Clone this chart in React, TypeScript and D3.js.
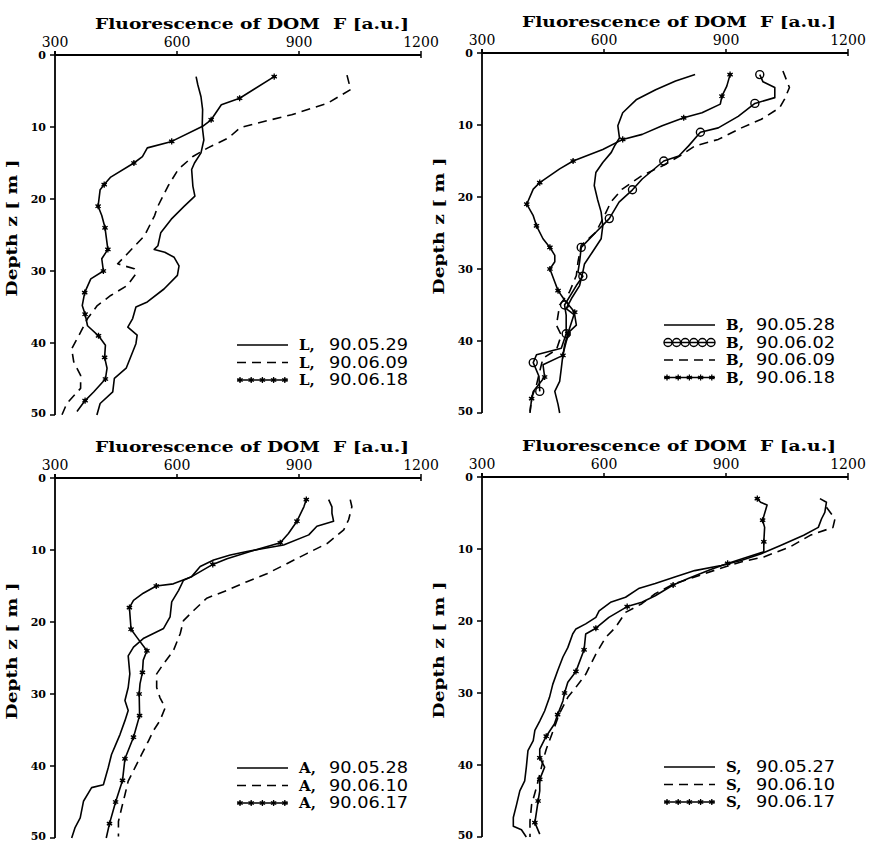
import React from 'react';
import * as d3 from 'd3';

// [F, depth, marker?]
type Pt = number[];

const fTicks = [300, 600, 900, 1200];
const depthTicks = [0, 10, 20, 30, 40, 50];
const xTitle = 'Fluorescence of DOM  F [a.u.]';
const yTitle = 'Depth z [ m ]';

// station L
const L_0529: Pt[] = [[647,3],[651,4.1],[659,5.8],[663,7.6],[662,9.9],[666,11.8],[659,13.6],[643,15],[636,15.9],[639,18.2],[644,19.6],[618,21],[586,22.8],[560,24.7],[553,26.5],[544,27],[570,27.4],[593,28.1],[605,29.3],[601,30.6],[568,32.5],[527,34.3],[499,35],[491,36.6],[479,37.8],[502,38.9],[499,40.1],[475,43.5],[446,44.9],[442,46.8],[411,48.4],[403,50]];
const L_0609: Pt[] = [[1018,2.8],[1027,4.8],[970,6.7],[882,8.3],[816,9.2],[755,10.1],[727,11.5],[676,12.9],[639,14.1],[603,15.9],[578,18.2],[553,21],[545,22.3],[520,25.1],[478,27.6],[454,29],[495,29.7],[499,30.4],[478,32],[437,33.4],[404,34.8],[380,36.6],[363,38.5],[341,40.8],[346,42.6],[363,44.5],[363,46.3],[329,48.4],[317,50]];
const L_0618: Pt[] = [[839,3,1],[754,6,1],[709,6.9],[684,9,1],[663,9.9],[587,12,1],[527,12.9],[515,14.1],[494,15,1],[436,17],[421,18,1],[411,18.7],[406,21,1],[415,22.3],[423,24,1],[430,27,1],[415,28.3],[419,30,1],[388,31.1],[373,33,1],[367,34.8],[374,36,1],[380,37.6],[407,39,1],[424,40.3],[422,42,1],[428,43.5],[424,45,1],[395,46.8],[374,48,1],[354,49.5]];

// station B
const B_0528: Pt[] = [[824,3],[776,3.9],[727,5.1],[679,6.5],[646,8.3],[634,10.1],[638,11.8],[626,12.9],[618,13.8],[597,15.2],[580,16.6],[576,18.4],[584,20.3],[593,22.1],[597,24],[593,25.8],[572,27.6],[552,29.3],[548,30.4],[540,32.3],[520,34.1],[507,35.5],[528,36.4],[532,37.8],[515,38.7],[507,40.1],[499,41.9],[495,43.8],[491,45.6],[479,47],[487,48.8],[491,50]];
const B_0602: Pt[] = [[983,3,1],[991,4],[1020,4.8],[1020,6.2],[971,7,1],[930,8.8],[881,10.4],[837,11,1],[808,12.9],[784,14.3],[747,15,1],[694,17.5],[670,19,1],[637,20.7],[613,23,1],[580,24.9],[544,27,1],[540,29],[536,30.4],[548,31,1],[532,32.3],[503,35,1],[507,36.4],[507,39,1],[495,41],[434,41.9],[426,43,1],[440,44.9],[442,47,1]];
const B_0609: Pt[] = [[1040,2.5],[1056,4.8],[1044,6.4],[1032,7.6],[987,9.2],[938,10.4],[881,12],[824,12.9],[792,14.1],[743,15.7],[694,17],[645,18.9],[617,20.7],[601,22.6],[580,24.9],[544,26.7],[536,29],[532,30.9],[515,33.2],[491,35],[483,37.8],[495,39.2],[483,41.2],[450,42.4],[442,44.2],[434,46.1],[422,47.9],[418,49.8]];
const B_0618: Pt[] = [[910,3,1],[902,4.6],[890,6,1],[886,7.1],[841,8.3],[796,9,1],[743,10.1],[694,11.3],[646,12,1],[597,13.4],[524,15,1],[491,16.1],[442,18,1],[426,18.9],[410,21,1],[426,22.6],[434,24,1],[450,25.8],[467,27,1],[479,28.1],[479,29],[467,30,1],[479,31.8],[487,33,1],[503,34.3],[528,36,1],[511,39,1],[503,40.6],[499,42,1],[450,43.3],[454,45,1],[426,47],[422,48,1],[418,50]];

// station A
const A_0528: Pt[] = [[973,3],[981,4],[981,4.9],[985,6],[944,6.7],[924,7.9],[862,9.3],[813,9.8],[772,10.2],[731,10.7],[690,11.4],[657,12.3],[636,13.7],[616,14.2],[604,15.6],[587,17.2],[583,19.3],[567,20.9],[542,21.6],[517,22.3],[493,23.5],[480,24.7],[484,27.2],[480,29.1],[472,30.9],[480,32.3],[472,33.7],[460,35.6],[448,37.2],[439,38.4],[431,40.2],[419,42.6],[390,43],[370,44.9],[362,47.2],[349,48.6],[341,50]];
const A_0610: Pt[] = [[1026,3],[1030,4],[1022,5.8],[1010,7.2],[969,9.1],[919,10.5],[870,11.9],[821,13.3],[772,14.4],[723,15.6],[673,16.7],[641,18.4],[616,19.8],[608,21.6],[591,24],[567,25.8],[550,27.2],[550,29.1],[558,30.5],[571,31.9],[558,33.7],[542,35.1],[530,36.5],[513,38.4],[497,40.2],[480,42.1],[472,44],[464,45.8],[456,47.7],[456,49.8]];
const A_0617: Pt[] = [[918,3,1],[912,4],[895,6,1],[874,7.7],[854,9,1],[780,10.2],[723,11.2],[688,12,1],[636,13.7],[591,14.7],[549,15,1],[517,16],[493,17],[483,18,1],[487,21,1],[501,22.1],[526,24,1],[517,25.3],[515,27,1],[509,28.6],[507,30,1],[508,33,1],[493,36,1],[472,39,1],[466,42,1],[449,45,1],[434,48,1],[426,50]];

// station S
const S_0527: Pt[] = [[1131,3],[1147,3.5],[1143,4.9],[1135,5.8],[1127,7],[1091,8.1],[1034,9.5],[985,10.7],[937,11.6],[888,12.3],[823,13],[774,13.9],[726,14.8],[685,15.5],[653,16.7],[616,17.4],[588,18.6],[580,19.5],[555,20.4],[531,21.1],[523,21.8],[511,23.7],[499,25],[486,26.9],[474,28.8],[466,30.6],[454,32.5],[442,33.9],[430,35.2],[426,36.6],[413,38],[409,40.3],[405,42.2],[393,43.6],[385,45.5],[377,47.3],[377,48.5],[397,49],[409,50]];
const S_0610: Pt[] = [[1147,4.2],[1168,5.8],[1163,7],[1107,8.1],[1058,9.7],[993,11.1],[937,11.8],[880,12.8],[823,13.9],[774,14.8],[726,16.2],[693,17.6],[653,18.8],[628,20.9],[604,22.3],[580,24.6],[555,27.4],[531,29.2],[511,30.6],[490,32.9],[472,35.7],[458,37.8],[450,39.4],[442,41.3],[434,43.1],[422,45.5],[418,47.8],[418,50]];
const S_0617: Pt[] = [[977,3,1],[985,3.5],[1001,3.9],[990,6,1],[995,7],[993,9,1],[993,10.4],[953,11.1],[904,12,1],[864,12.8],[807,14.1],[770,15,1],[726,16.5],[693,17.4],[657,18,1],[612,19.5],[580,21,1],[555,21.8],[551,24,1],[531,27,1],[511,28.5],[503,30,1],[499,31.1],[486,33,1],[478,34.3],[458,36,1],[442,37.8],[442,39,1],[454,40.3],[442,42,1],[442,43.6],[438,45,1],[430,48,1],[442,49.6]];

type Kind = 'solid' | 'dashed' | 'star' | 'circle';
interface Series { st: string; date: string; kind: Kind; data: Pt[] }

const panels: { left: number; top: number; series: Series[] }[] = [
  { left: 55, top: 55, series: [
    { st: 'L,', date: '90.05.29', kind: 'solid', data: L_0529 },
    { st: 'L,', date: '90.06.09', kind: 'dashed', data: L_0609 },
    { st: 'L,', date: '90.06.18', kind: 'star', data: L_0618 },
  ] },
  { left: 482, top: 53, series: [
    { st: 'B,', date: '90.05.28', kind: 'solid', data: B_0528 },
    { st: 'B,', date: '90.06.02', kind: 'circle', data: B_0602 },
    { st: 'B,', date: '90.06.09', kind: 'dashed', data: B_0609 },
    { st: 'B,', date: '90.06.18', kind: 'star', data: B_0618 },
  ] },
  { left: 55, top: 478, series: [
    { st: 'A,', date: '90.05.28', kind: 'solid', data: A_0528 },
    { st: 'A,', date: '90.06.10', kind: 'dashed', data: A_0610 },
    { st: 'A,', date: '90.06.17', kind: 'star', data: A_0617 },
  ] },
  { left: 482, top: 477, series: [
    { st: 'S,', date: '90.05.27', kind: 'solid', data: S_0527 },
    { st: 'S,', date: '90.06.10', kind: 'dashed', data: S_0610 },
    { st: 'S,', date: '90.06.17', kind: 'star', data: S_0617 },
  ] },
];

const PW = 366;
const PH = 360;
const starPath = d3.symbol(d3.symbolAsterisk, 26)() as string;

function Marker({ kind, x, y }: { kind: Kind; x: number; y: number }) {
  if (kind === 'circle') {
    return <circle cx={x} cy={y} r={4} fill="none" stroke="#000" strokeWidth={1.4} />;
  }
  return (
    <g transform={`translate(${x},${y})`}>
      <path d={starPath} fill="none" stroke="#000" strokeWidth={1.3} />
      <circle r={1.8} fill="#000" />
    </g>
  );
}

function Panel({ left, top, series }: { left: number; top: number; series: Series[] }) {
  const x = d3.scaleLinear().domain([300, 1200]).range([0, PW]);
  const y = d3.scaleLinear().domain([0, 50]).range([0, PH]);
  const line = d3.line<Pt>().x(d => x(d[0])).y(d => y(d[1]));
  const legTop = series.length === 4 ? 272 : 290;

  return (
    <g transform={`translate(${left},${top})`}>
      <text x={PW / 2 + 14} y={-26} textAnchor="middle" fontFamily="DejaVu Serif" fontWeight="bold"
        fontSize={15} textLength={314} lengthAdjust="spacingAndGlyphs" style={{ whiteSpace: 'pre' }}>{xTitle}</text>
      {/* top axis */}
      <line x1={0} x2={PW} y1={0} y2={0} stroke="#000" strokeWidth={1.8} />
      {fTicks.map(t => (
        <g key={t}>
          <line x1={x(t)} x2={x(t)} y1={-4} y2={t === 1200 ? 3 : 0} stroke="#000" strokeWidth={1.5} />
          <text x={x(t)} y={-8} textAnchor="middle" fontFamily="DejaVu Serif" fontSize={14}>{t}</text>
        </g>
      ))}
      {/* left axis */}
      <line x1={0} x2={0} y1={-4} y2={PH} stroke="#000" strokeWidth={1.8} />
      {depthTicks.map(t => (
        <g key={t}>
          <line x1={-5} x2={0} y1={y(t)} y2={y(t)} stroke="#000" strokeWidth={1.5} />
          <text x={-9} y={y(t) + (t === 50 ? 2 : 4)} textAnchor="end" fontFamily="DejaVu Serif" fontWeight="bold" fontSize={11}>{t}</text>
        </g>
      ))}
      <text transform={`translate(-38,${PH / 2 - 7}) rotate(-90)`} textAnchor="middle" fontFamily="DejaVu Serif"
        fontWeight="bold" fontSize={15} textLength={137} lengthAdjust="spacingAndGlyphs">{yTitle}</text>

      {series.map((s, i) => (
        <g key={i}>
          <path d={line(s.data) as string} fill="none" stroke="#000" strokeWidth={1.6}
            strokeDasharray={s.kind === 'dashed' ? '9,6' : undefined} strokeLinejoin="round" />
          {(s.kind === 'star' || s.kind === 'circle') &&
            s.data.filter(d => d[2]).map((d, j) => <Marker key={j} kind={s.kind} x={x(d[0])} y={y(d[1])} />)}
        </g>
      ))}

      {/* legend */}
      {series.map((s, i) => {
        const cy = legTop + i * 17.5;
        const x0 = 182, x1 = 233;
        const marks = s.kind === 'circle' ? d3.range(6).map(k => x0 + 4 + k * 8.6)
          : s.kind === 'star' ? d3.range(5).map(k => x0 + 3 + k * 11.2) : [];
        return (
          <g key={'lg' + i}>
            <line x1={x0} x2={x1} y1={cy} y2={cy} stroke="#000" strokeWidth={1.6}
              strokeDasharray={s.kind === 'dashed' ? '9,6' : undefined} />
            {marks.map((mx, k) => <Marker key={k} kind={s.kind} x={mx} y={cy} />)}
            <text x={244} y={cy + 5} fontFamily="DejaVu Serif" fontWeight="bold" fontSize={15}>{s.st}</text>
            <text x={274} y={cy + 5} fontFamily="DejaVu Sans" fontSize={15} textLength={79}
              lengthAdjust="spacingAndGlyphs">{s.date}</text>
          </g>
        );
      })}
    </g>
  );
}

export default function App() {
  return (
    <svg width={871} height={844} style={{ position: 'absolute', left: 0, top: 0, background: '#fff' }}>
      <rect width={871} height={844} fill="#fff" />
      {panels.map((p, i) => <Panel key={i} {...p} />)}
    </svg>
  );
}
